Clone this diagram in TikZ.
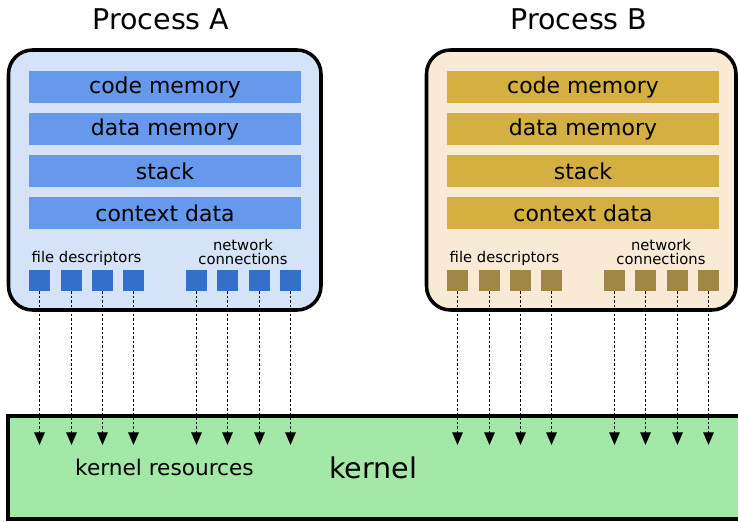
\documentclass[tikz,border=0pt]{standalone}
\usepackage{fontspec}
\setmainfont{DejaVu Sans}
\usetikzlibrary{arrows.meta,positioning}
\definecolor{blueback}{RGB}{213,227,248}
\definecolor{bluebar}{RGB}{102,153,236}
\definecolor{bluesq}{RGB}{52,112,201}
\definecolor{sandback}{RGB}{249,234,213}
\definecolor{sandbar}{RGB}{212,175,65}
\definecolor{sandsq}{RGB}{160,135,72}
\definecolor{kernelgreen}{RGB}{163,232,166}
\tikzset{
  membar/.style={minimum width=6.8cm,minimum height=.8cm,inner sep=0pt,font=\fontsize{15.6}{18}\selectfont},
  fdsq/.style={minimum size=.525cm,inner sep=0pt},
  smalltext/.style={font=\fontsize{10.5}{10}\selectfont,align=center,inner sep=0pt},
  bigtext/.style={font=\fontsize{20.3}{24}\selectfont},
  link/.style={line width=.8pt,dash pattern=on 1.8pt off 1.4pt,-{Triangle[length=9pt,width=7.5pt]}}
}

\begin{document}
\begin{tikzpicture}[x=.025cm,y=-.025cm]
\useasboundingbox(0,0)rectangle(738,521);
%kernel
\draw[line width=2.8pt,fill=kernelgreen](8,416)rectangle(760,519);
\node[font=\fontsize{15.4}{18}\selectfont](kres)at(164.5,467){kernel resources};
\node[bigtext](kern)at(373,468){kernel};
%processes
\foreach \p/\dx/\rx/\name/\boxcol/\barcol/\sqcol in {a/0/321/A/blueback/bluebar/bluesq,b/418/736/B/sandback/sandbar/sandsq}{
\draw[line width=2.5pt,rounded corners=.6cm,fill=\boxcol]({8.5+\dx},50)rectangle(\rx,310);
\node[bigtext](title\p)at({161+\dx},19){Process \name};
\foreach \t[count=\i] in {code memory,data memory,stack,context data}
  \node[membar,fill=\barcol](mem\p\i)at({165+\dx},45+42*\i){\t};
\node[smalltext](fd\p)at({86.5+\dx},258){file descriptors};
\node[smalltext](net\p)at({243+\dx},252){network\\connections};
\foreach \x[count=\i] in {39.5,71.5,102.5,133.5,196.5,227.5,259.5,290.5}{
  \node[fdsq,fill=\sqcol](sq\p\i)at({\x+\dx},280.5){};
  \coordinate(k\p\i)at({\x+\dx},445);
  \draw[link](sq\p\i)--(k\p\i);
}
}
\end{tikzpicture}
\end{document}
